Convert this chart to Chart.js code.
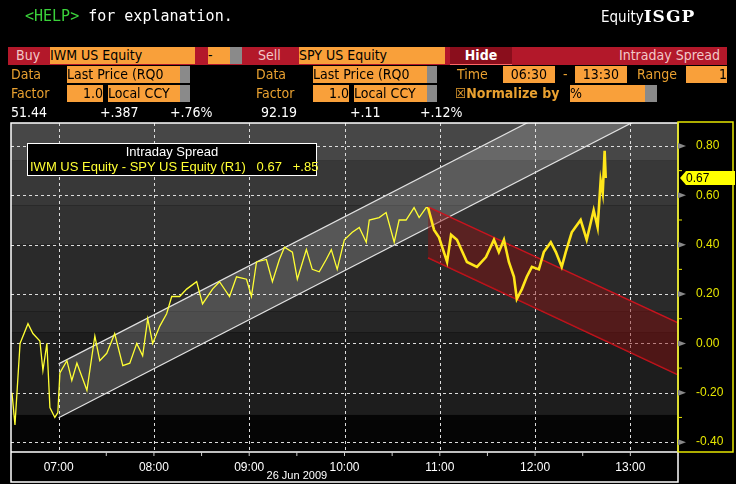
<!DOCTYPE html>
<html><head><meta charset="utf-8">
<script src="https://cdn.jsdelivr.net/npm/chart.js"></script>
<style>
body{margin:0;background:#000;width:736px;height:484px;overflow:hidden;position:relative;font-family:"DejaVu Sans Condensed","Liberation Sans Narrow","Liberation Sans",sans-serif}
canvas{position:absolute;left:0;top:0}
.a{position:absolute;white-space:nowrap;font-size:14px;line-height:17px}
.o{color:#e8a030}.b{background:#f9a03a;color:#000}.g{background:#8a8a8a}
</style></head><body>
<canvas id="c" width="736" height="484"></canvas>
<div class="a" style="left:25px;top:8px;font-family:'DejaVu Sans Mono';font-size:15px;color:#fff"><span style="color:#3ad23a">&lt;HELP&gt;</span> for explanation.</div>
<div class="a" style="left:601px;top:8px;color:#fff;font-size:15px">Equity<b style="font-family:'DejaVu Serif';font-size:17px;letter-spacing:1px">ISGP</b></div>
<div class="a" style="left:8px;top:47px;width:719px;height:18px;background:#b3182a"></div>
<div class="a" style="left:16px;top:47px;color:#f2c8c8">Buy</div>
<div class="a b" style="left:50px;top:47px;width:145px;height:17px">IWM US Equity</div>
<div class="a b" style="left:208px;top:47px;width:22px;height:17px">-</div><div class="a g" style="left:230px;top:47px;width:12px;height:17px"></div>
<div class="a" style="left:258px;top:47px;color:#f2c8c8">Sell</div>
<div class="a b" style="left:299px;top:47px;width:146px;height:17px">SPY US Equity</div>
<div class="a" style="left:450px;top:47px;width:62px;height:17px;background:#8a0e1c;color:#fff;font-weight:bold;text-align:center;border-bottom:1px solid #f66">Hide</div>
<div class="a" style="left:560px;top:47px;width:160px;text-align:right;color:#f2c8c8">Intraday Spread</div>
<div class="a o" style="left:11px;top:66px">Data</div>
<div class="a b" style="left:67px;top:66px;width:113px;height:17px">Last Price (RQ0</div><div class="a g" style="left:180px;top:66px;width:10px;height:17px"></div>
<div class="a o" style="left:256px;top:66px">Data</div>
<div class="a b" style="left:313px;top:66px;width:114px;height:17px">Last Price (RQ0</div><div class="a g" style="left:427px;top:66px;width:10px;height:17px"></div>
<div class="a o" style="left:457px;top:66px">Time</div>
<div class="a b" style="left:503px;top:66px;width:52px;height:17px;text-align:center">06:30</div>
<div class="a o" style="left:563px;top:66px">-</div>
<div class="a b" style="left:575px;top:66px;width:52px;height:17px;text-align:center">13:30</div>
<div class="a o" style="left:637px;top:66px">Range</div>
<div class="a b" style="left:686px;top:66px;width:41px;height:17px;text-align:right">1</div>
<div class="a o" style="left:11px;top:85px">Factor</div>
<div class="a b" style="left:67px;top:85px;width:36px;height:17px;text-align:right">1.0</div>
<div class="a b" style="left:108px;top:85px;width:72px;height:17px">Local CCY</div><div class="a g" style="left:180px;top:85px;width:10px;height:17px"></div>
<div class="a o" style="left:256px;top:85px">Factor</div>
<div class="a b" style="left:313px;top:85px;width:36px;height:17px;text-align:right">1.0</div>
<div class="a b" style="left:354px;top:85px;width:73px;height:17px">Local CCY</div><div class="a g" style="left:427px;top:85px;width:10px;height:17px"></div>
<div class="a o" style="left:455px;top:85px;font-weight:bold">☒Normalize by</div>
<div class="a b" style="left:570px;top:85px;width:75px;height:17px">%</div><div class="a g" style="left:645px;top:85px;width:12px;height:17px"></div>
<div class="a" style="left:11px;top:104px;color:#fff">51.44</div>
<div class="a" style="left:100px;top:104px;color:#fff">+.387</div>
<div class="a" style="left:170px;top:104px;color:#fff">+.76%</div>
<div class="a" style="left:261px;top:104px;color:#fff">92.19</div>
<div class="a" style="left:350px;top:104px;color:#fff">+.11</div>
<div class="a" style="left:420px;top:104px;color:#fff">+.12%</div>
<div class="a" style="left:27px;top:143px;width:288px;height:31px;background:#000;border:1px solid #fff;font-family:'Liberation Sans';font-size:13px;line-height:15px;text-align:center"><div style="color:#fff">Intraday Spread</div><div style="color:#ffff33;text-align:left;padding-left:2px">IWM US Equity - SPY US Equity (R1)&nbsp;&nbsp; 0.67 &nbsp;&nbsp;+.85</div></div>
<script>
const times=[390.6,392.5,395.7,400.7,403.8,408.2,410.1,412.6,414.5,417.6,419.5,420.8,425.2,428.3,431.5,437.8,442.8,445.9,450.3,455.3,460.4,464.8,469.2,472.9,476.1,479.2,483.7,488.0,491.2,496.2,500.6,506.9,510.6,516.9,521.3,527.6,532.0,538.3,541.4,544.6,550.8,554.6,559.0,562.2,567.2,570.3,576.0,579.7,584.1,588.5,591.7,595.4,599.9,604.9,609.3,613.7,615.6,621.8,626.2,631.3,634.4,638.8,643.8,647.0,651.4,652.6,656.4,659.5,664.6,667.1,670.8,677.1,683.4,689.1,694.1,697.2,700.4,703.5,706.7,708.5,711.7,714.8,718.0,722.4,725.5,729.9,733.1,736.8,739.3,743.1,748.7,752.5,756.9,759.4,761.3,762.6,763.8,764.5];
const spread=[-0.20,-0.33,0.00,0.08,0.04,0.01,-0.11,0.00,-0.26,-0.30,-0.28,-0.12,-0.07,-0.15,-0.08,-0.19,0.03,-0.07,-0.04,0.04,-0.09,-0.08,0.00,-0.05,0.10,0.00,0.07,0.12,0.19,0.19,0.22,0.25,0.16,0.22,0.25,0.19,0.27,0.26,0.19,0.33,0.34,0.25,0.34,0.39,0.37,0.26,0.38,0.30,0.29,0.34,0.38,0.30,0.42,0.45,0.47,0.41,0.50,0.51,0.53,0.41,0.50,0.50,0.55,0.51,0.55,0.55,0.46,0.43,0.33,0.44,0.42,0.33,0.31,0.35,0.42,0.37,0.42,0.33,0.27,0.18,0.22,0.27,0.31,0.30,0.37,0.41,0.37,0.31,0.37,0.45,0.50,0.42,0.54,0.47,0.66,0.61,0.78,0.67];
const upChTimes=[420,810], upChHi=[-0.083,1.208], upChLo=[-0.301,0.990];
const dnChTimes=[652.6,810], dnChHi=[0.553,0.083], dnChLo=[0.347,-0.127];
const yTicks=[0.8,0.6,0.4,0.2,0,-0.2,-0.4];
const bands=[[0.893,0.74,'#474747'],[0.74,0.56,'#383838'],[0.56,0.40,'#323232'],[0.40,0.13,'#2a2a2a'],[0.13,0.045,'#262626'],[0.045,-0.29,'#1d1d1d'],[-0.29,-0.44,'#050505']];
const pts=(t,v)=>t.map((x,i)=>({x,y:v[i]}));
const fmt=m=>String(Math.floor(m/60)).padStart(2,'0')+':'+String(Math.round(m%60)).padStart(2,'0');
const deco={id:'deco',
beforeDatasetsDraw(ch){const {ctx,chartArea:a,scales:{x,y}}=ch;ctx.save();
 bands.forEach(b=>{ctx.fillStyle=b[2];const t=y.getPixelForValue(b[0]),bo=y.getPixelForValue(b[1]);ctx.fillRect(a.left,t,a.right-a.left,bo-t);});
 ctx.strokeStyle='#ddd';ctx.lineWidth=1;ctx.setLineDash([3,3]);
 for(let m=420;m<=780;m+=60){const px=Math.round(x.getPixelForValue(m))+0.5;ctx.beginPath();ctx.moveTo(px,a.top);ctx.lineTo(px,a.bottom);ctx.stroke();}
 yTicks.forEach(v=>{const py=Math.round(y.getPixelForValue(v))+0.5;ctx.beginPath();ctx.moveTo(a.left,py);ctx.lineTo(a.right,py);ctx.stroke();});
 ctx.restore();},
afterDraw(ch){const {ctx,chartArea:a,scales:{x,y}}=ch;ctx.save();
 ctx.strokeStyle='#fff';ctx.lineWidth=1.5;ctx.strokeRect(a.left,a.top,a.right-a.left,482-a.top);
 ctx.beginPath();ctx.moveTo(a.left,a.bottom);ctx.lineTo(a.right,a.bottom);ctx.stroke();
 ctx.strokeStyle='#e6e600';ctx.strokeRect(a.right,a.top-1,733-a.right,a.bottom-a.top+1);
 ctx.strokeStyle='#ccc';ctx.lineWidth=1;
 for(let m=450;m<=810;m+=30){const px=x.getPixelForValue(m);ctx.beginPath();ctx.moveTo(px,a.bottom);ctx.lineTo(px,a.bottom+4);ctx.stroke();}
 ctx.strokeStyle='#e6e600';
 for(let v=-0.4;v<=0.85;v+=0.1){const py=y.getPixelForValue(v);ctx.beginPath();ctx.moveTo(a.right,py);ctx.lineTo(a.right+4,py);ctx.stroke();}
 ctx.fillStyle='#888';yTicks.forEach(v=>{const py=y.getPixelForValue(v);ctx.beginPath();ctx.moveTo(a.right,py-3);ctx.lineTo(a.right+8,py);ctx.lineTo(a.right,py+3);ctx.fill();});
 const py=y.getPixelForValue(0.67);ctx.fillStyle='#ffff00';ctx.beginPath();ctx.moveTo(a.right+2,py);ctx.lineTo(a.right+8,py-7);ctx.lineTo(735,py-7);ctx.lineTo(735,py+7);ctx.lineTo(a.right+8,py+7);ctx.closePath();ctx.fill();
 ctx.fillStyle='#000';ctx.font='12px "Liberation Sans"';ctx.textBaseline='middle';ctx.fillText('0.67',a.right+8,py+1);
 ctx.fillStyle='#fff';ctx.font='11px "Liberation Sans"';ctx.textAlign='center';ctx.fillText('26 Jun 2009',x.getPixelForValue(570),476);
 ctx.restore();}};
new Chart(document.getElementById('c'),{
 data:{datasets:[
  {type:'line',order:2,data:pts(upChTimes,upChHi),borderColor:'#e0e0e0',borderWidth:1.2,pointRadius:0,fill:'+1',backgroundColor:'rgba(255,255,255,0.18)'},
  {type:'line',order:2,data:pts(upChTimes,upChLo),borderColor:'#e0e0e0',borderWidth:1.2,pointRadius:0},
  {type:'line',order:1,data:pts(dnChTimes,dnChHi),borderColor:'#c8141e',borderWidth:1.5,pointRadius:0,fill:'+1',backgroundColor:'rgba(140,15,15,0.45)'},
  {type:'line',order:1,data:pts(dnChTimes,dnChLo),borderColor:'#c8141e',borderWidth:1.5,pointRadius:0},
  {type:'line',order:0,data:pts(times,spread),borderColor:'#ffff33',borderWidth:1.3,pointRadius:0,tension:0,
   segment:{borderWidth:c=>c.p0.parsed.x>=652?2.6:1.3,borderColor:c=>c.p0.parsed.x>=652?'#ffe61a':'#ffff33'}}
 ]},
 plugins:[deco],
 options:{responsive:false,animation:false,events:[],
  layout:{padding:{left:11,top:123,right:0,bottom:0}},
  plugins:{legend:{display:false},tooltip:{enabled:false}},
  scales:{
   x:{type:'linear',min:390,max:810,afterFit:s=>{s.height=32},grid:{display:false},border:{display:false},
      afterBuildTicks:s=>{s.ticks=[420,480,540,600,660,720,780].map(v=>({value:v}))},
      ticks:{color:'#fff',font:{family:'Liberation Sans',size:12},padding:0,callback:v=>fmt(v),maxRotation:0}},
   y:{position:'right',min:-0.44,max:0.893,afterFit:s=>{s.width=58},grid:{display:false},border:{display:false},
      afterBuildTicks:s=>{s.ticks=yTicks.map(v=>({value:v}))},
      ticks:{color:'#e6e600',font:{family:'Liberation Sans',size:12},padding:10,callback:v=>v.toFixed(2)}}
  }}});
</script></body></html>
